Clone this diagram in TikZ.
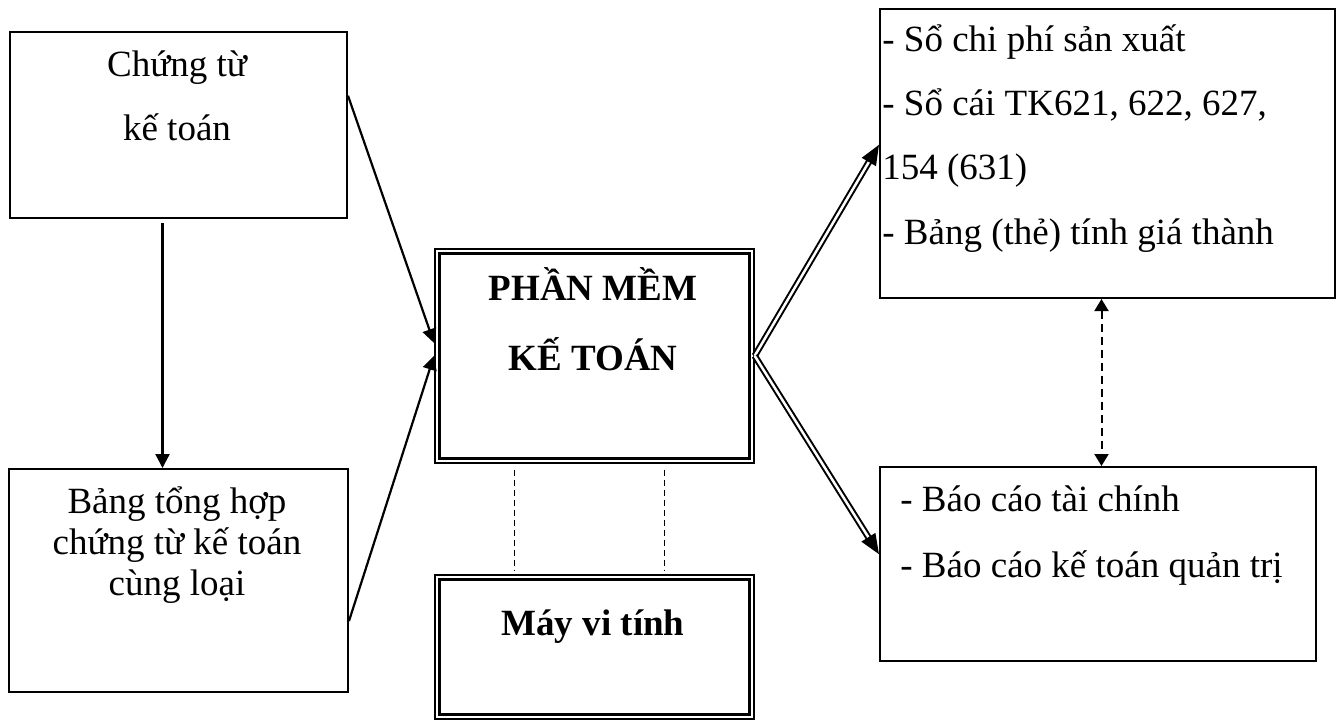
\documentclass[tikz,border=0pt]{standalone}
\usepackage{fontspec}
\setmainfont{Liberation Serif}
\usetikzlibrary{arrows.meta, calc}

\begin{document}
\begin{tikzpicture}[x=0.5pt, y=-0.5pt,
  box/.style={draw, line width=1pt, anchor=north west, inner sep=0pt},
  dbox/.style={draw, line width=0.85pt, anchor=north west, inner sep=0pt},
  txt/.style={anchor=base, inner sep=0pt, font=\fontsize{18.5}{22}\selectfont},
  ltxt/.style={txt, anchor=base west},
  btxt/.style={txt, font=\fontsize{18.5}{22}\selectfont\bfseries},
  tip/.style={-{Triangle[length=7pt, width=7pt]}, line width=1.1pt},
  dbl/.style={double, double distance=1.25pt, line width=1pt, -{Triangle[length=10pt, width=8pt]}},
  pmdash/.style={dash pattern=on 3pt off 2pt, line width=0.75pt}]
\useasboundingbox (0,0) rectangle (1341,720);

% boxes
\node[box, minimum width=168.5pt, minimum height=93pt] (chungtu) at (9,31) {};
\node[box, minimum width=169.5pt, minimum height=111.5pt] (banghop) at (8,468) {};
\node[dbox, minimum width=159.5pt, minimum height=107pt] (phanmem) at (434,248) {};
\node[dbox, minimum width=159.5pt, minimum height=72pt] (mayvt) at (434,574) {};
\node[box, minimum width=227.5pt, minimum height=144.5pt] (soketoan) at (879,8) {};
\node[box, minimum width=218pt, minimum height=97pt] (baocao) at (879,466) {};
\foreach \b in {phanmem, mayvt}
  \draw[line width=1.35pt] ([shift={(2.75pt,-2.75pt)}]\b.north west) rectangle ([shift={(-2.75pt,2.75pt)}]\b.south east);

% texts
\node[txt] (t11) at (177,76) {Chứng từ};
\node[txt] (t12) at (177,140) {kế toán};
\node[txt] (t21) at (177,513) {Bảng tổng hợp};
\node[txt] (t22) at (177,554) {chứng từ kế toán};
\node[txt] (t23) at (177,595) {cùng loại};
\node[btxt] (t31) at (593,300) {PHẦN MỀM};
\node[btxt] (t32) at (593,370) {KẾ TOÁN};
\node[btxt] (t41) at (593,635) {Máy vi tính};
\node[ltxt] (t51) at (882,51) {- Sổ chi phí sản xuất};
\node[ltxt] (t52) at (882,115) {- Sổ cái TK621, 622, 627,};
\node[ltxt] (t53) at (882,179) {154 (631)};
\node[ltxt] (t54) at (882,244) {- Bảng (thẻ) tính giá thành};
\node[ltxt] (t61) at (900,511) {- Báo cáo tài chính};
\node[ltxt] (t62) at (900,577) {- Báo cáo kế toán quản trị};

% connectors
\draw[tip, shorten <=2pt] ([xshift=-8pt]chungtu.south) -- ([xshift=-8pt]chungtu.south |- banghop.north);
\draw[tip] ($(chungtu.north east)!0.344!(chungtu.south east)$) -- ($(phanmem.north west)!0.44!(phanmem.south west)$);
\draw[tip] ($(banghop.north east)!0.68!(banghop.south east)$) -- (phanmem.west);
\draw[dbl] (phanmem.east) -- ($(soketoan.north west)!0.47!(soketoan.south west)$);
\draw[dbl] (phanmem.east) -- ($(baocao.north west)!0.45!(baocao.south west)$);
\draw[dash pattern=on 4pt off 2.5pt, line width=1pt, {Triangle[length=6pt, width=7pt]}-{Triangle[length=6pt, width=7pt]}] ([xshift=-3pt]soketoan.south) -- ([xshift=-3pt]soketoan.south |- baocao.north);
\draw[pmdash, shorten <=3pt, shorten >=2pt] ([xshift=-40pt]phanmem.south) -- ([xshift=-40pt]phanmem.south |- mayvt.north);
\draw[pmdash, shorten <=3pt, shorten >=2pt] ([xshift=35pt]phanmem.south) -- ([xshift=35pt]phanmem.south |- mayvt.north);
\end{tikzpicture}
\end{document}
